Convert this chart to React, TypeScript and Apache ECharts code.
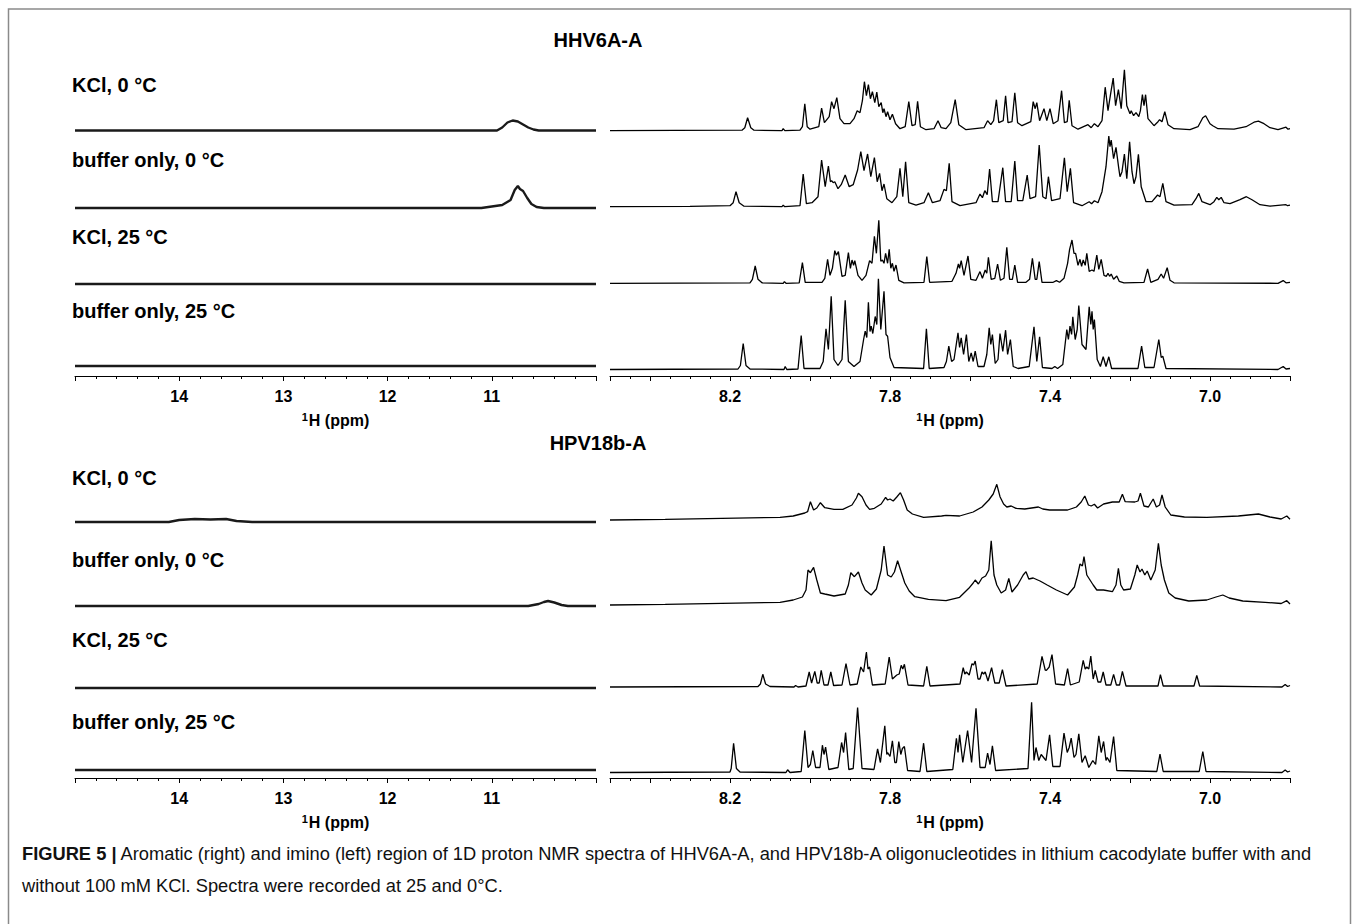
import React, { useEffect, useRef } from "react";
import * as echarts from "echarts";

const FONT = "'Liberation Sans', Arial, Helvetica, sans-serif";

// ---- axis ranges and labels ----
const IMINO_RANGE = [10, 15];
const AROM_RANGE = [6.8, 8.5];
const iminoLabels = [14, 13, 12, 11];
const aromLabels = [8.2, 7.8, 7.4, 7.0];
const panelTitles = ["HHV6A-A", "HPV18b-A"];
const conditions = ["KCl, 0 °C", "buffer only, 0 °C", "KCl, 25 °C", "buffer only, 25 °C"];
const captionBold = "FIGURE 5 |";
const captionLine1 =
  " Aromatic (right) and imino (left) region of 1D proton NMR spectra of HHV6A-A, and HPV18b-A oligonucleotides in lithium cacodylate buffer with and";
const captionLine2 = "without 100 mM KCl. Spectra were recorded at 25 and 0°C.";

// ---- spectra: [ppm, intensity] vertices ----
// HHV6A-A, imino region
const hhvIminoKcl0 = [[15, 0], [10.95, 0], [10.9, 3], [10.85, 8], [10.8, 10], [10.75, 9], [10.7, 6], [10.65, 3], [10.6, 1], [10.55, 0], [10, 0]];
const hhvIminoBuf0 = [[15, 0], [11.1, 0], [11.0, 1.5], [10.9, 3], [10.82, 8], [10.78, 18], [10.75, 22], [10.73, 19], [10.7, 17], [10.66, 10], [10.62, 4], [10.57, 1], [10.5, 0], [10, 0]];
const hhvIminoKcl25 = [[15, 0], [10, 0]];
const hhvIminoBuf25 = [[15, 0], [10, 0]];

// HHV6A-A, aromatic region
const hhvAromKcl0 = [[8.5, 0], [8.17, 0.5], [8.163, 3], [8.156, 13], [8.148, 3], [8.14, 0.5], [8.07, 0], [8.067, 2], [8.063, 0], [8.025, 0.5], [8.019, 4], [8.013, 27], [8.007, 4], [8.0, 1.5], [7.978, 4], [7.971, 22.5], [7.964, 8], [7.952, 14], [7.946, 29], [7.94, 22], [7.933, 33], [7.925, 12], [7.915, 7], [7.9, 7], [7.89, 12], [7.882, 20], [7.875, 18], [7.869, 30], [7.864, 49], [7.859, 35], [7.854, 46], [7.849, 32], [7.844, 39], [7.838, 28], [7.833, 38.5], [7.828, 24], [7.822, 28], [7.818, 18], [7.815, 22], [7.81, 14], [7.806, 19], [7.8, 11], [7.794, 16.5], [7.786, 7], [7.775, 2], [7.762, 4], [7.753, 29], [7.745, 5], [7.737, 6], [7.731, 29.5], [7.724, 4], [7.71, 1], [7.69, 2], [7.68, 10], [7.672, 3], [7.66, 2], [7.648, 8], [7.637, 31], [7.628, 6], [7.61, 1], [7.565, 3], [7.556, 10], [7.548, 6], [7.541, 10], [7.534, 31], [7.528, 8], [7.517, 10], [7.511, 35], [7.505, 8], [7.495, 9], [7.488, 38], [7.481, 8], [7.47, 5], [7.448, 9], [7.442, 29], [7.437, 22], [7.433, 28], [7.426, 10], [7.415, 22], [7.408, 10], [7.4, 22], [7.392, 7], [7.38, 10], [7.371, 40], [7.364, 8], [7.357, 9], [7.352, 30.5], [7.345, 5], [7.33, 1.5], [7.305, 6], [7.297, 3], [7.289, 7], [7.28, 4], [7.27, 10], [7.262, 43.5], [7.255, 20], [7.248, 38], [7.242, 52.6], [7.236, 25], [7.229, 41], [7.222, 22], [7.214, 61], [7.208, 25], [7.2, 17], [7.197, 20], [7.191, 15], [7.185, 18], [7.178, 14], [7.174, 20], [7.169, 36], [7.165, 25], [7.161, 36], [7.155, 12], [7.14, 5], [7.13, 9], [7.126, 11], [7.12, 9], [7.113, 19], [7.105, 6], [7.09, 2], [7.05, 1], [7.03, 4], [7.018, 13], [7.011, 15], [7.0, 7], [6.993, 5], [6.98, 2], [6.94, 1.5], [6.91, 4], [6.89, 8.5], [6.879, 9.5], [6.865, 7], [6.85, 3], [6.83, 1], [6.81, 3.5], [6.805, 1.5], [6.8, 2]];
const hhvAromBuf0 = [[8.5, 0], [8.3, 0.3], [8.2, 1], [8.192, 4], [8.185, 15], [8.177, 4], [8.165, 0.5], [8.07, 0], [8.067, 1.5], [8.063, 0], [8.025, 1], [8.017, 32.7], [8.009, 3], [7.995, 4], [7.98, 10], [7.971, 46.7], [7.962, 20], [7.954, 40.7], [7.949, 25], [7.946, 26], [7.942, 24], [7.938, 25], [7.93, 18], [7.922, 22], [7.912, 31.7], [7.902, 20], [7.892, 22], [7.881, 36.7], [7.873, 55], [7.865, 36], [7.856, 52.7], [7.848, 30], [7.839, 49], [7.832, 25], [7.826, 33.3], [7.82, 16], [7.815, 22.7], [7.808, 8], [7.795, 4], [7.783, 10], [7.775, 38.3], [7.768, 10], [7.761, 45], [7.753, 4], [7.735, 1.5], [7.715, 4], [7.704, 14], [7.694, 4], [7.675, 6], [7.665, 17.3], [7.659, 16], [7.652, 43.3], [7.645, 5], [7.625, 1], [7.585, 4], [7.575, 12.7], [7.569, 9], [7.563, 16], [7.557, 12], [7.551, 37.7], [7.544, 5], [7.53, 5], [7.518, 39], [7.511, 5], [7.497, 5], [7.488, 45.7], [7.481, 6], [7.468, 6], [7.457, 31.7], [7.45, 8], [7.436, 10], [7.427, 61.7], [7.418, 10], [7.41, 8], [7.404, 30], [7.396, 6], [7.375, 8], [7.364, 49], [7.357, 15], [7.349, 38.3], [7.341, 4], [7.32, 1], [7.302, 5], [7.296, 3], [7.289, 6], [7.28, 4], [7.27, 15], [7.26, 40], [7.253, 70.7], [7.25, 60], [7.247, 66.7], [7.241, 48], [7.235, 59.3], [7.228, 38], [7.225, 30], [7.22, 35], [7.214, 52.7], [7.208, 28], [7.201, 65], [7.195, 35], [7.19, 23], [7.185, 30], [7.179, 52.3], [7.172, 20], [7.16, 5], [7.145, 5], [7.131, 11.7], [7.125, 10], [7.118, 23.3], [7.11, 5], [7.09, 1.5], [7.045, 2], [7.035, 8], [7.028, 13.3], [7.02, 5], [7.0, 2], [6.99, 5], [6.983, 9.3], [6.978, 7], [6.972, 9.3], [6.965, 4], [6.95, 3], [6.925, 7], [6.909, 10], [6.895, 7], [6.875, 2], [6.85, 0.5], [6.81, 2], [6.806, 1], [6.8, 1.5]];
const hhvAromKcl25 = [[8.5, 0], [8.15, 0.5], [8.144, 4], [8.137, 17.3], [8.13, 4], [8.12, 0.5], [8.067, 0], [8.064, 1.7], [8.06, 0], [8.027, 0.5], [8.019, 20.7], [8.012, 1], [7.97, 1], [7.963, 5], [7.956, 24], [7.95, 8], [7.944, 15], [7.938, 32.7], [7.934, 28], [7.929, 31.7], [7.92, 7], [7.912, 8], [7.904, 30.7], [7.899, 15], [7.895, 23.3], [7.891, 18], [7.888, 22.7], [7.88, 8], [7.87, 3], [7.86, 8], [7.851, 22.7], [7.845, 20], [7.839, 47], [7.834, 30], [7.828, 63], [7.823, 22], [7.819, 23.3], [7.815, 20], [7.811, 30], [7.806, 20], [7.802, 34], [7.798, 15], [7.794, 20], [7.79, 12], [7.785, 18.3], [7.778, 3], [7.765, 0.5], [7.715, 1], [7.708, 26.7], [7.701, 1], [7.645, 2], [7.635, 10], [7.629, 19.3], [7.626, 15], [7.622, 22.7], [7.615, 8], [7.605, 27.3], [7.598, 4], [7.585, 3], [7.575, 11.7], [7.569, 5], [7.562, 13.3], [7.558, 10], [7.554, 26], [7.547, 4], [7.538, 5], [7.531, 19.3], [7.524, 3], [7.515, 5], [7.508, 36], [7.501, 4], [7.494, 4], [7.488, 18.3], [7.481, 1], [7.46, 1], [7.451, 4], [7.444, 25], [7.437, 4], [7.433, 4], [7.427, 21.7], [7.42, 1], [7.392, 1], [7.384, 2.7], [7.376, 1], [7.365, 5], [7.356, 20], [7.351, 34], [7.345, 43.3], [7.34, 30], [7.336, 30], [7.33, 18], [7.325, 24], [7.321, 17], [7.317, 23.3], [7.312, 18], [7.308, 30], [7.302, 12], [7.295, 13.3], [7.29, 12], [7.283, 28.3], [7.278, 14], [7.272, 24], [7.265, 8], [7.259, 7], [7.255, 10], [7.251, 7], [7.247, 9.3], [7.241, 4], [7.233, 7.3], [7.227, 2], [7.215, 0.5], [7.165, 1], [7.156, 14.3], [7.148, 1], [7.13, 4], [7.122, 9.3], [7.116, 5], [7.107, 15.7], [7.1, 3], [7.09, 0.5], [6.83, 0], [6.817, 2.7], [6.81, 0.5], [6.8, 1]];
const hhvAromBuf25 = [[8.5, 0], [8.18, 0.5], [8.174, 4], [8.167, 26], [8.16, 4], [8.15, 0.5], [8.065, 0], [8.062, 3], [8.058, 0], [8.03, 0.5], [8.022, 34], [8.015, 1], [7.975, 1], [7.967, 8], [7.96, 40.7], [7.954, 20], [7.947, 73.3], [7.94, 10], [7.93, 4], [7.92, 10], [7.912, 69.3], [7.904, 8], [7.89, 3], [7.875, 8], [7.866, 30], [7.862, 38.3], [7.858, 32], [7.854, 67.3], [7.85, 38], [7.847, 43.3], [7.843, 36], [7.837, 53], [7.833, 45], [7.829, 90.7], [7.823, 40], [7.815, 78.3], [7.81, 35], [7.806, 33.3], [7.8, 12], [7.79, 2], [7.716, 1], [7.709, 40.7], [7.702, 1], [7.665, 2], [7.659, 8], [7.653, 23.3], [7.646, 8], [7.64, 10], [7.63, 36.7], [7.626, 22], [7.622, 31.7], [7.616, 15], [7.609, 35], [7.603, 8], [7.597, 16.7], [7.592, 8], [7.587, 18.3], [7.58, 3], [7.565, 3], [7.558, 15], [7.552, 41.7], [7.548, 25], [7.544, 35], [7.537, 6], [7.53, 10], [7.525, 36], [7.518, 18], [7.511, 39.3], [7.506, 15], [7.499, 30], [7.492, 3], [7.48, 1], [7.452, 3], [7.44, 42.7], [7.433, 8], [7.426, 32.7], [7.419, 2], [7.395, 1], [7.388, 3], [7.381, 1], [7.368, 5], [7.358, 40], [7.354, 30], [7.35, 43.3], [7.346, 35], [7.343, 52.7], [7.337, 30], [7.332, 40], [7.328, 64], [7.32, 25], [7.31, 20], [7.302, 62.7], [7.298, 45], [7.295, 58.3], [7.292, 40], [7.289, 50], [7.282, 10], [7.274, 3], [7.267, 12.7], [7.26, 3], [7.253, 12.7], [7.246, 1], [7.18, 1], [7.171, 23.3], [7.163, 2], [7.14, 2], [7.128, 30], [7.122, 12], [7.118, 13.3], [7.11, 1], [6.83, 0], [6.817, 3], [6.81, 0.5], [6.8, 1]];

// HPV18b-A, imino region
const hpvIminoKcl0 = [[15, 0], [14.1, 0], [14.0, 2], [13.85, 3], [13.7, 2.5], [13.55, 3], [13.45, 1], [13.3, 0], [10, 0]];
const hpvIminoBuf0 = [[15, 0], [10.65, 0], [10.55, 2], [10.5, 4], [10.46, 5], [10.4, 3.5], [10.33, 1], [10.27, 0], [10, 0]];
const hpvIminoKcl25 = [[15, 0], [10, 0]];
const hpvIminoBuf25 = [[15, 0], [10, 0]];

// HPV18b-A, aromatic region
const hpvAromKcl0 = [[8.5, 0], [8.362, 0.7], [8.075, 2.7], [8.042, 4], [8.013, 7], [8.006, 8.3], [7.999, 18.3], [7.991, 10], [7.983, 12], [7.974, 17.3], [7.963, 12.3], [7.94, 10.7], [7.918, 10.7], [7.895, 15], [7.884, 22], [7.879, 26.7], [7.87, 23.3], [7.86, 15], [7.851, 10.7], [7.839, 11.7], [7.822, 16], [7.811, 22.7], [7.806, 20], [7.8, 21], [7.792, 19], [7.783, 23], [7.774, 27.3], [7.766, 20], [7.757, 10], [7.744, 6], [7.716, 2.7], [7.671, 4], [7.66, 4.7], [7.626, 4], [7.592, 8], [7.57, 13], [7.553, 20], [7.542, 26], [7.533, 35.7], [7.525, 23.3], [7.516, 16], [7.508, 13], [7.497, 14], [7.485, 11.7], [7.463, 11], [7.429, 13], [7.418, 11], [7.401, 10], [7.356, 10], [7.334, 13], [7.322, 18], [7.313, 24], [7.304, 15], [7.297, 14], [7.289, 15.7], [7.281, 12], [7.266, 16], [7.244, 18], [7.227, 18], [7.219, 25.7], [7.212, 18.3], [7.188, 18], [7.18, 19], [7.174, 26.7], [7.165, 14], [7.154, 13], [7.142, 21], [7.134, 13], [7.126, 15], [7.12, 25], [7.112, 13], [7.098, 5], [7.064, 3], [7.008, 2.7], [6.929, 4], [6.879, 6], [6.85, 3], [6.822, 1], [6.808, 4], [6.8, 0.7]];
const hpvAromBuf0 = [[8.5, 0], [8.362, 0.7], [8.075, 2.7], [8.042, 5], [8.019, 8], [8.01, 15], [8.005, 35], [7.999, 32.3], [7.991, 37.7], [7.983, 25], [7.974, 12], [7.963, 11], [7.94, 9], [7.912, 11], [7.904, 20], [7.898, 32.3], [7.889, 28.3], [7.879, 33], [7.87, 22], [7.862, 15], [7.847, 10], [7.834, 16], [7.822, 35], [7.815, 59], [7.806, 30], [7.797, 28], [7.789, 33], [7.781, 44.3], [7.772, 33], [7.763, 22], [7.752, 14], [7.738, 8.3], [7.704, 5.7], [7.66, 4.3], [7.626, 7.7], [7.603, 16.7], [7.592, 22], [7.587, 25], [7.579, 21], [7.57, 27], [7.561, 29], [7.553, 35], [7.547, 64.3], [7.54, 30], [7.533, 20], [7.522, 12], [7.511, 15], [7.503, 26.7], [7.495, 13], [7.481, 20], [7.467, 30], [7.46, 33.3], [7.453, 26], [7.442, 27], [7.425, 24], [7.407, 20], [7.384, 15], [7.356, 10], [7.339, 18], [7.331, 30], [7.325, 41], [7.319, 39], [7.315, 48.3], [7.308, 30], [7.3, 25], [7.292, 20], [7.283, 15], [7.266, 15], [7.244, 13.3], [7.235, 20], [7.229, 36.7], [7.223, 20], [7.216, 15], [7.199, 16], [7.188, 30], [7.182, 40], [7.175, 33], [7.17, 36], [7.163, 30], [7.157, 34], [7.148, 25], [7.137, 35], [7.129, 61.7], [7.122, 40], [7.114, 25], [7.103, 12], [7.087, 7], [7.053, 4], [7.008, 5], [6.985, 8], [6.968, 10], [6.952, 7], [6.918, 4], [6.862, 2.7], [6.822, 1.5], [6.808, 4.3], [6.8, 1]];
const hpvAromKcl25 = [[8.5, 0], [8.13, 0.5], [8.124, 3], [8.118, 12.7], [8.111, 3], [8.1, 0.5], [8.04, 0], [8.036, 1.5], [8.03, 0], [8.01, 1], [8.002, 15], [7.996, 4], [7.988, 15.7], [7.982, 4], [7.977, 4], [7.972, 16.7], [7.965, 2], [7.955, 2], [7.948, 15], [7.941, 1.5], [7.92, 2], [7.91, 23.3], [7.9, 2], [7.882, 3], [7.873, 20], [7.866, 15], [7.859, 35], [7.855, 18], [7.851, 20], [7.844, 2], [7.812, 3], [7.802, 30], [7.794, 8], [7.783, 12], [7.777, 13], [7.772, 21.7], [7.768, 18], [7.764, 22.7], [7.755, 2], [7.716, 1], [7.708, 20.7], [7.7, 1], [7.625, 3], [7.617, 19.3], [7.613, 13], [7.609, 15], [7.602, 12], [7.595, 23.3], [7.591, 22], [7.587, 26], [7.58, 8], [7.575, 8], [7.57, 15], [7.566, 13], [7.562, 15], [7.555, 6], [7.546, 19.3], [7.538, 4], [7.527, 4], [7.519, 17.3], [7.51, 1], [7.432, 3], [7.42, 30.7], [7.412, 17], [7.409, 16.7], [7.402, 20], [7.395, 32.3], [7.386, 3], [7.364, 2], [7.356, 18.3], [7.349, 2], [7.327, 5], [7.317, 26.7], [7.312, 18], [7.308, 20], [7.303, 18], [7.298, 31], [7.292, 8], [7.287, 16.7], [7.28, 5], [7.273, 5], [7.267, 15], [7.26, 2], [7.248, 2], [7.241, 12.7], [7.234, 2], [7.226, 2], [7.219, 15.7], [7.21, 1], [7.13, 1], [7.124, 12.3], [7.117, 1], [7.04, 1], [7.033, 11.7], [7.026, 1], [6.82, 0], [6.812, 2.5], [6.806, 0.5], [6.8, 1.5]];
const hpvAromBuf25 = [[8.5, 0], [8.2, 0.5], [8.197, 4], [8.191, 29.3], [8.184, 4], [8.175, 0.5], [8.06, 0], [8.056, 2.7], [8.05, 0], [8.022, 1], [8.013, 42], [8.005, 5], [7.999, 8], [7.993, 22], [7.986, 5], [7.975, 5], [7.969, 27.3], [7.965, 18], [7.961, 25.3], [7.953, 3], [7.93, 5], [7.921, 30], [7.916, 20], [7.911, 40], [7.903, 3], [7.892, 4], [7.881, 65], [7.87, 4], [7.84, 3], [7.831, 23.7], [7.824, 10], [7.813, 46.7], [7.808, 18], [7.806, 20], [7.8, 16], [7.794, 31.7], [7.788, 10], [7.784, 10], [7.778, 31], [7.773, 18], [7.769, 24], [7.764, 26], [7.756, 2], [7.725, 1], [7.716, 29.3], [7.708, 1], [7.643, 3], [7.634, 34.3], [7.63, 20], [7.626, 37.7], [7.618, 10], [7.606, 42], [7.596, 10], [7.585, 64.3], [7.575, 5], [7.562, 5], [7.556, 19.3], [7.55, 8], [7.544, 26.7], [7.536, 2], [7.455, 4], [7.446, 70.3], [7.44, 12], [7.435, 25], [7.428, 12], [7.422, 18], [7.418, 16], [7.41, 12], [7.401, 37.7], [7.393, 6], [7.375, 6], [7.365, 39.3], [7.357, 20], [7.352, 25], [7.347, 34.3], [7.34, 15], [7.335, 18], [7.328, 38.7], [7.32, 10], [7.312, 16.7], [7.303, 5], [7.293, 12], [7.286, 8], [7.278, 36.7], [7.272, 20], [7.266, 31], [7.26, 12], [7.257, 15], [7.25, 10], [7.241, 36], [7.233, 2], [7.133, 1], [7.125, 18.3], [7.117, 1], [7.027, 1], [7.018, 21], [7.01, 1], [6.82, 0], [6.812, 2.5], [6.806, 0.5], [6.8, 1.5]];

const iminoSpectra = [
  [hhvIminoKcl0, hhvIminoBuf0, hhvIminoKcl25, hhvIminoBuf25],
  [hpvIminoKcl0, hpvIminoBuf0, hpvIminoKcl25, hpvIminoBuf25],
];
const aromSpectra = [
  [hhvAromKcl0, hhvAromBuf0, hhvAromKcl25, hhvAromBuf25],
  [hpvAromKcl0, hpvAromBuf0, hpvAromKcl25, hpvAromBuf25],
];

// ---- layout (pixels) ----
const W = 1359;
const H = 924;
const PANEL_TOP = [60, 462];
const PLOT_H = 316;
const LEFT_X = 75;
const LEFT_W = 521;
const RIGHT_X = 610;
const RIGHT_W = 680;
const STACK_LEFT = [[245.5, 168, 92, 10], [256, 172, 90, 8]];
const STACK_RIGHT = [[245.3, 169.3, 92.7, 6.5], [258, 173, 91, 5.5]];
const TITLE_Y = [40, 443];
const LABEL_Y = [[85, 160, 237, 311], [478, 560, 640, 722]];

function near(v: number, list: number[]) {
  return list.some((t) => Math.abs(v - t) < 1e-6);
}

function buildOption() {
  const grids: any[] = [];
  const xAxes: any[] = [];
  const yAxes: any[] = [];
  const series: any[] = [];
  const nameRich = {
    s: { fontSize: 11, fontWeight: "bold", fontFamily: FONT, color: "#000", verticalAlign: "top", lineHeight: 12, padding: [0, 1, 0, 0] },
    n: { fontSize: 16, fontWeight: "bold", fontFamily: FONT, color: "#000", lineHeight: 18 },
  };

  for (let p = 0; p < 2; p++) {
    for (let side = 0; side < 2; side++) {
      const gi = grids.length;
      const isLeft = side === 0;
      grids.push({
        left: isLeft ? LEFT_X : RIGHT_X,
        top: PANEL_TOP[p],
        width: isLeft ? LEFT_W : RIGHT_W,
        height: PLOT_H,
      });
      const range = isLeft ? IMINO_RANGE : AROM_RANGE;
      const mainIdx = xAxes.length;
      // main axis: line, major ticks, labels, name
      xAxes.push({
        type: "value",
        gridIndex: gi,
        position: "bottom",
        min: range[0],
        max: range[1],
        inverse: true,
        interval: isLeft ? 1 : 0.2,
        axisLine: { show: true, onZero: false, lineStyle: { color: "#000", width: 1 } },
        axisTick: { show: true, length: 5, lineStyle: { color: "#000", width: 1 } },
        splitLine: { show: false },
        axisLabel: {
          show: true,
          margin: 12,
          fontSize: 16,
          fontWeight: "bold",
          fontFamily: FONT,
          color: "#000",
          showMinLabel: true,
          showMaxLabel: true,
          formatter: (v: number) => {
            if (isLeft) return near(v, iminoLabels) ? String(Math.round(v)) : "";
            return near(v, aromLabels) ? v.toFixed(1) : "";
          },
        },
        name: "{s|1}{n|H (ppm)}",
        nameLocation: "middle",
        nameGap: 35,
        nameTextStyle: { rich: nameRich },
      });
      // minor tick axis (same position, shorter ticks)
      xAxes.push({
        type: "value",
        gridIndex: gi,
        position: "bottom",
        offset: 0,
        min: range[0],
        max: range[1],
        inverse: true,
        interval: isLeft ? 0.2 : 0.05,
        axisLine: { show: false, onZero: false },
        axisTick: { show: true, length: 3, lineStyle: { color: "#000", width: 1 } },
        axisLabel: { show: false },
        splitLine: { show: false },
      });
      yAxes.push({ type: "value", gridIndex: gi, min: 0, max: PLOT_H, show: false });

      const spectra = isLeft ? iminoSpectra[p] : aromSpectra[p];
      const offsets = isLeft ? STACK_LEFT[p] : STACK_RIGHT[p];
      spectra.forEach((spec, i) => {
        series.push({
          type: "line",
          xAxisIndex: mainIdx,
          yAxisIndex: gi,
          data: spec.map((pt) => [pt[0], pt[1] + offsets[i]]),
          showSymbol: false,
          symbol: "none",
          silent: true,
          clip: false,
          lineStyle: isLeft ? { color: "#1a1a1a", width: 2.4 } : { color: "#000", width: 1.3 },
        });
      });
    }
  }

  const graphics: any[] = [
    {
      type: "rect",
      shape: { x: 8.5, y: 9, width: 1342, height: 1000 },
      style: { fill: "none", stroke: "#8a8a8a", lineWidth: 1.5 },
      silent: true,
    },
  ];
  for (let p = 0; p < 2; p++) {
    graphics.push({
      type: "text",
      x: 598,
      y: TITLE_Y[p],
      style: { text: panelTitles[p], font: `bold 20px ${FONT}`, fill: "#000", align: "center", verticalAlign: "middle" },
    });
    conditions.forEach((c, i) => {
      graphics.push({
        type: "text",
        x: 72,
        y: LABEL_Y[p][i],
        style: { text: c, font: `bold 20px ${FONT}`, fill: "#000", align: "left", verticalAlign: "middle" },
      });
    });
  }
  graphics.push({
    type: "text",
    x: 22,
    y: 853,
    style: {
      text: `{b|${captionBold}}{n|${captionLine1}}`,
      align: "left",
      verticalAlign: "middle",
      rich: {
        b: { font: `bold 18.3px ${FONT}`, fill: "#111" },
        n: { font: `18.3px ${FONT}`, fill: "#111" },
      },
    },
  });
  graphics.push({
    type: "text",
    x: 22,
    y: 885,
    style: { text: captionLine2, font: `18.3px ${FONT}`, fill: "#111", align: "left", verticalAlign: "middle" },
  });

  return {
    animation: false,
    backgroundColor: "#fff",
    grid: grids,
    xAxis: xAxes,
    yAxis: yAxes,
    series,
    graphic: graphics,
  };
}

export default function App() {
  const ref = useRef<HTMLDivElement>(null);
  useEffect(() => {
    if (!ref.current) return;
    const chart = echarts.init(ref.current, undefined, { renderer: "svg", width: W, height: H });
    chart.setOption(buildOption() as any);
    return () => chart.dispose();
  }, []);
  return (
    <div
      ref={ref}
      style={{ position: "absolute", left: 0, top: 0, width: W, height: H, background: "#fff" }}
    />
  );
}
